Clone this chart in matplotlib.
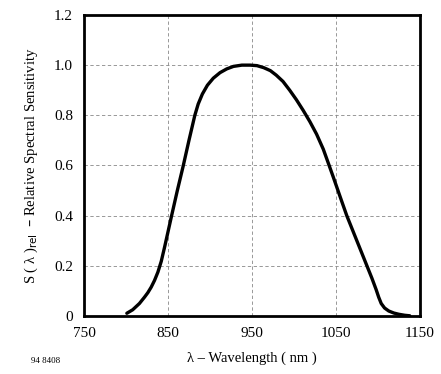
import matplotlib.pyplot as plt

wavelength = [801, 808, 816, 822, 826, 830, 834, 838, 842, 846, 850, 854, 861, 868, 875, 882,
              886, 891, 897, 904, 912, 920, 928, 938, 948,
              956, 964, 972, 979, 987, 995, 1003, 1011, 1019, 1027, 1035, 1042, 1047, 1052,
              1057, 1063, 1069, 1075, 1081, 1087, 1093, 1098, 1101, 1104, 1108, 1113,
              1119, 1125, 1132, 1138]
sensitivity = [0.011, 0.025, 0.05, 0.075, 0.093, 0.115, 0.142, 0.175, 0.218, 0.275, 0.335, 0.395,
               0.498, 0.596, 0.70, 0.80,
               0.845, 0.885, 0.92, 0.948, 0.97, 0.985, 0.995, 1.0, 1.0,
               0.998, 0.99, 0.978, 0.96, 0.935, 0.90, 0.862, 0.82, 0.775, 0.725, 0.665, 0.60, 0.553, 0.505,
               0.457, 0.40, 0.35, 0.30, 0.25, 0.20, 0.15, 0.105, 0.075, 0.05, 0.032, 0.02,
               0.012, 0.007, 0.003, 0.001]
x_ticks = [750, 850, 950, 1050, 1150]
y_ticks = [0, 0.2, 0.4, 0.6, 0.8, 1.0, 1.2]
y_labels = ['0', '0.2', '0.4', '0.6', '0.8', '1.0', '1.2']

plt.rcParams['font.family'] = ['Liberation Serif', 'DejaVu Serif']

fig = plt.figure(figsize=(4.41, 3.74), dpi=100)
ax = fig.add_axes([0.1905, 0.155, 0.7615, 0.805])

ax.plot(wavelength, sensitivity, color='black', lw=2.4, solid_capstyle='round',
        solid_joinstyle='round')

ax.set_xlim(750, 1150)
ax.set_ylim(0, 1.2)
ax.set_xticks(x_ticks)
ax.set_yticks(y_ticks)
ax.set_yticklabels(y_labels)
ax.tick_params(length=0, labelsize=11, pad=8)
ax.grid(True, ls=(0, (4, 3)), lw=0.6, color='#888888')
for s in ax.spines.values():
    s.set_linewidth(2)

ax.set_xlabel('λ – Wavelength ( nm )', fontsize=10.5, labelpad=8)
ax.set_ylabel('S ( λ )$_{\\rm rel}$  – Relative Spectral Sensitivity', fontsize=10.5, labelpad=10)
fig.text(0.07, 0.03, '94 8408', fontsize=6.5)

fig.savefig('out.png', dpi=100)
